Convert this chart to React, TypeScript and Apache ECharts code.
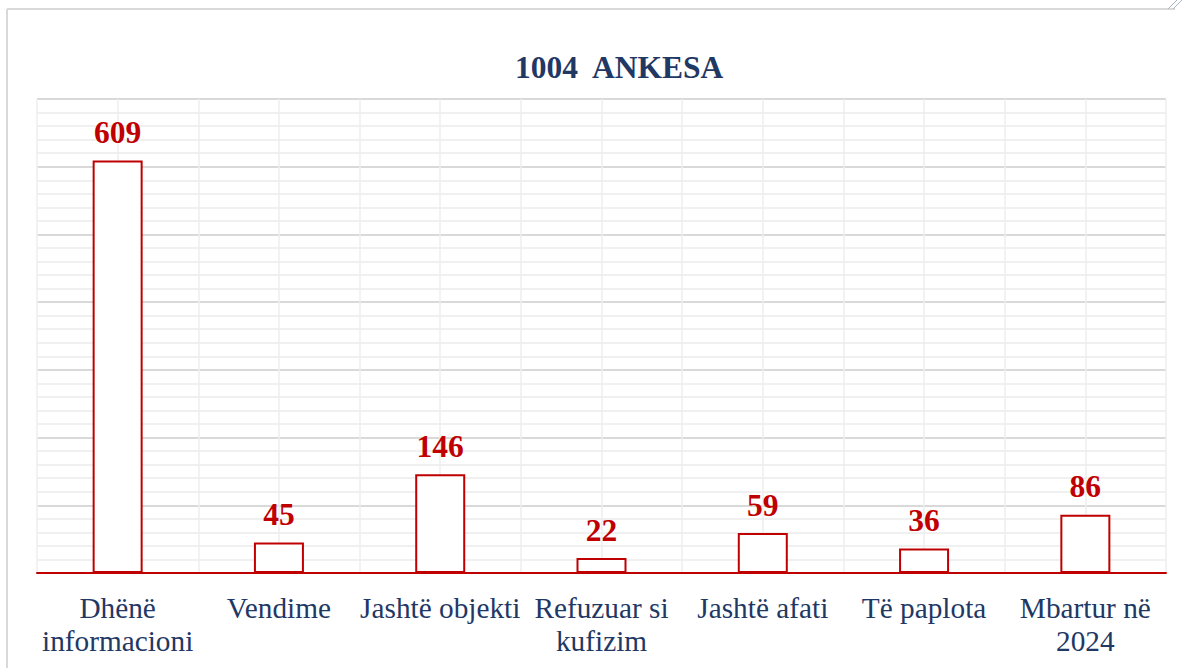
import React, { useEffect, useRef } from "react";
import * as echarts from "echarts";

const categories = [
  "Dhënë\ninformacioni",
  "Vendime",
  "Jashtë objekti",
  "Refuzuar si\nkufizim",
  "Jashtë afati",
  "Të paplota",
  "Mbartur në\n2024",
];
const values = [609, 45, 146, 22, 59, 36, 86];
const titleText = "1004  ANKESA";

const SERIF = "'Liberation Serif', 'Times New Roman', 'DejaVu Serif', serif";
const RED = "#c00000";
const NAVY = "#1f3864";

export default function App() {
  const ref = useRef<HTMLDivElement>(null);
  useEffect(() => {
    if (!ref.current) return;
    const chart = echarts.init(ref.current, undefined, { renderer: "svg" });
    chart.setOption({
      animation: false,
      backgroundColor: "#ffffff",
      title: {
        text: titleText,
        left: 515,
        top: 51,
        padding: 0,
        textStyle: {
          fontFamily: SERIF,
          fontWeight: "bold",
          fontSize: 31.5,
          lineHeight: 32,
          color: NAVY,
        },
      },
      grid: { left: 37, right: 17, top: 99, bottom: 95, containLabel: false },
      xAxis: [
        {
          type: "category",
          data: categories,
          axisTick: { show: false },
          axisLine: { lineStyle: { color: RED, width: 2 } },
          splitLine: { show: false },
          axisLabel: {
            interval: 0,
            margin: 18,
            fontFamily: SERIF,
            fontSize: 29.3,
            lineHeight: 33,
            color: NAVY,
          },
          z: 5,
        },
        {
          type: "value",
          min: 0,
          max: 14,
          interval: 1,
          position: "top",
          axisLine: { show: false },
          axisTick: { show: false },
          axisLabel: { show: false },
          splitLine: { show: true, lineStyle: { color: "#eeeeee", width: 1.5 } },
        },
      ],
      yAxis: {
        type: "value",
        min: 0,
        max: 700,
        interval: 100,
        axisLine: { show: false },
        axisTick: { show: false },
        axisLabel: { show: false },
        splitLine: { show: true, lineStyle: { color: "#d9d9d9", width: 2 } },
        minorTick: { show: false, splitNumber: 5 },
        minorSplitLine: { show: true, lineStyle: { color: "#f0f0f0", width: 2 } },
      },
      graphic: [
        {
          type: "line",
          shape: { x1: 7, y1: 9, x2: 1175, y2: 9 },
          style: { stroke: "#d9d9d9", lineWidth: 2 },
        },
        {
          type: "line",
          shape: { x1: 7, y1: 9, x2: 7, y2: 668 },
          style: { stroke: "#d9d9d9", lineWidth: 2 },
        },
        {
          type: "line",
          shape: { x1: 1168, y1: 9, x2: 1177, y2: 0 },
          style: { stroke: "#a9b4c8", lineWidth: 1 },
        },
        {
          type: "line",
          shape: { x1: 1173, y1: 9, x2: 1182, y2: 0 },
          style: { stroke: "#a9b4c8", lineWidth: 1 },
        },
      ],
      series: [
        {
          type: "bar",
          xAxisIndex: 0,
          yAxisIndex: 0,
          data: values,
          barWidth: 50,
          itemStyle: { color: "#ffffff", borderColor: RED, borderWidth: 2 },
          label: {
            show: true,
            position: "top",
            distance: 12,
            fontFamily: SERIF,
            fontWeight: "bold",
            fontSize: 31.5,
            color: RED,
          },
          z: 3,
        },
      ],
    });
    return () => chart.dispose();
  }, []);
  return (
    <div
      ref={ref}
      style={{ position: "fixed", left: 0, top: 0, width: 1183, height: 668 }}
    />
  );
}
